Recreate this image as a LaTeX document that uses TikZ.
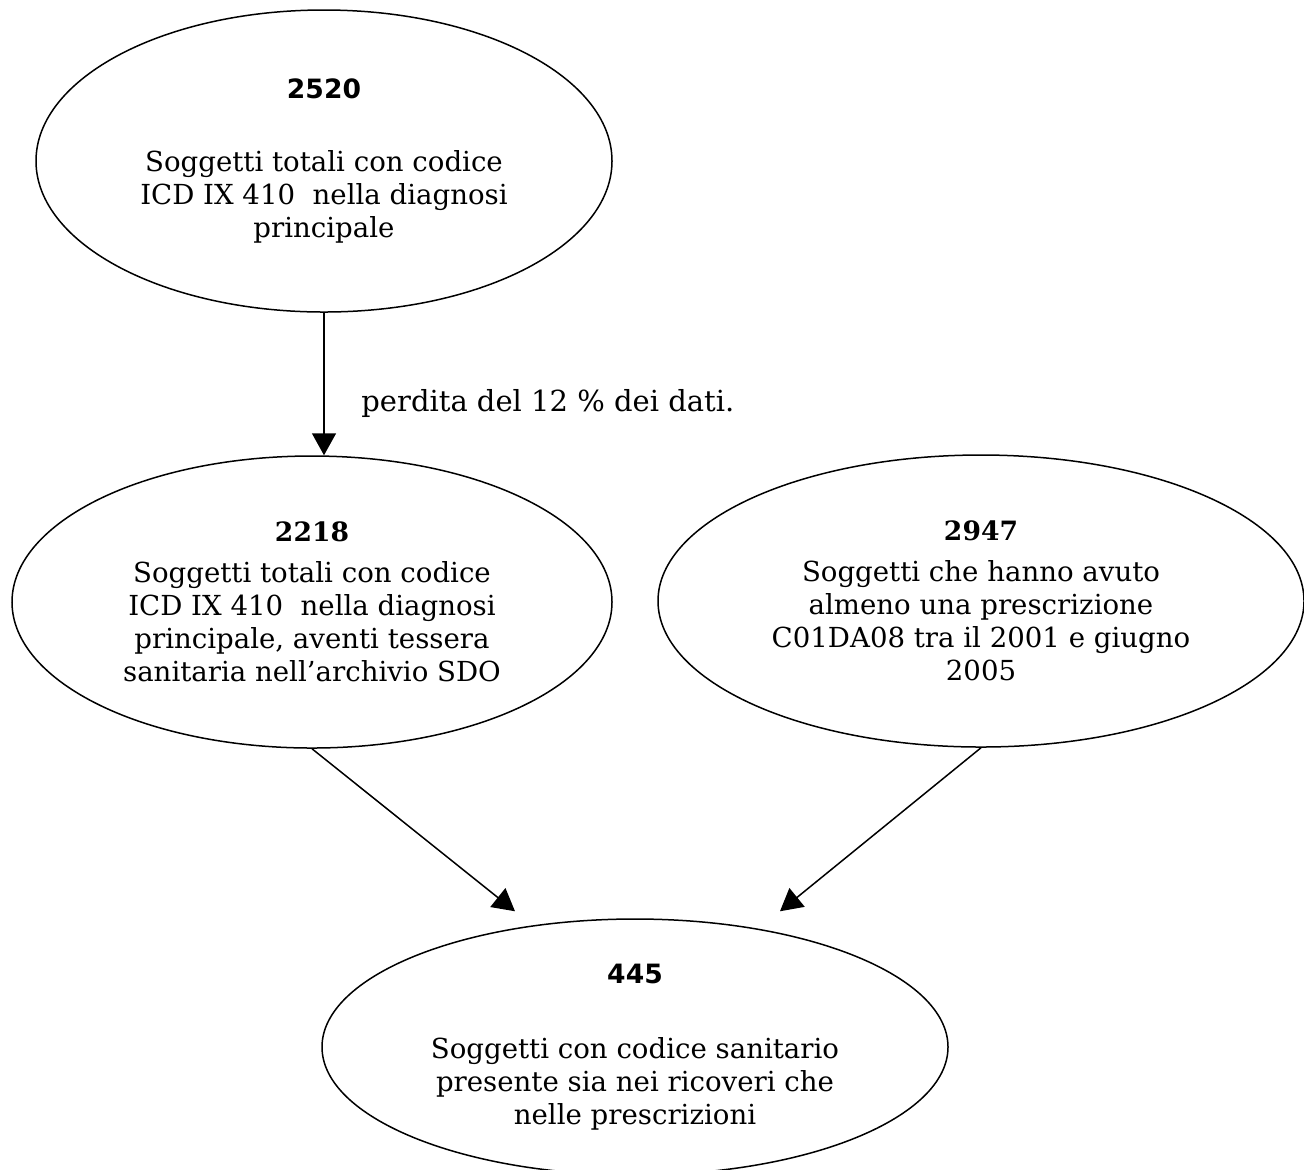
\documentclass[tikz,border=0pt]{standalone}
\usepackage{fontspec}
\setmainfont{DejaVu Serif}
\newfontfamily\numfont{DejaVu Sans}
\usetikzlibrary{arrows.meta,positioning,shapes.geometric,calc}

\begin{document}
\begin{tikzpicture}[x=0.5pt, y=-0.5pt,
  ell/.style={draw, ellipse, line width=0.75pt, inner sep=0pt, align=center,
    font=\fontsize{13.8}{16.5}\selectfont},
  arr/.style={-{Triangle[length=11pt,width=12pt]}, line width=0.75pt},
  lab/.style={font=\fontsize{14.5}{16.5}\selectfont}
]
\useasboundingbox (0,0) rectangle (1304,1169);
\clip (0,0) rectangle (1304,1169);

\node[ell, minimum width=288pt, minimum height=151pt] (tot) at (324,161)
  {{\numfont\fontsize{13.3}{16}\selectfont\bfseries 2520}\\[20pt]Soggetti totali con codice\\ICD IX 410~ nella diagnosi\\principale};
\node[ell, minimum width=300pt, minimum height=146pt] (sdo) at (312,602)
  {{\fontsize{13.3}{16}\selectfont\bfseries 2218}\\[4pt]Soggetti totali con codice\\ICD IX 410~ nella diagnosi\\principale, aventi tessera\\sanitaria nell'archivio SDO};
\node[ell, minimum width=323pt, minimum height=146pt] (presc) at (981,601)
  {{\fontsize{13.3}{16}\selectfont\bfseries 2947}\\[4pt]Soggetti che hanno avuto\\almeno una prescrizione\\C01DA08 tra il 2001 e giugno\\2005};
\node[ell, minimum width=313pt, minimum height=128pt] (both) at (635,1047)
  {{\numfont\fontsize{13.3}{16}\selectfont\bfseries 445}\\[21pt]Soggetti con codice sanitario\\presente sia nei ricoveri che\\nelle prescrizioni};

\coordinate (inl) at ($(both.north)+(-120,-7)$);
\coordinate (inr) at ($(both.north)+(145,-7)$);

\draw[arr] (tot.south) -- node[lab, pos=0.64, anchor=west, xshift=15pt] {perdita del 12 \% dei dati.} (tot.south |- sdo.north);
\draw[arr] (sdo.south) -- (inl);
\draw[arr] (presc.south) -- (inr);
\end{tikzpicture}
\end{document}
